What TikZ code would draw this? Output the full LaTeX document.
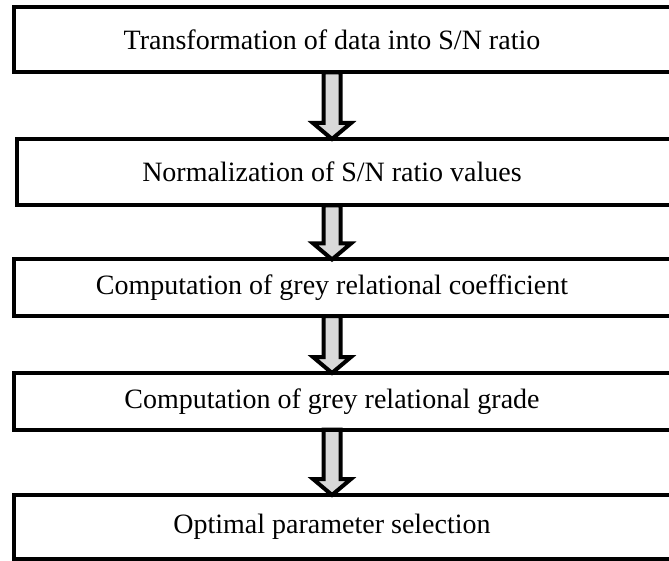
\documentclass[tikz,border=0pt]{standalone}
\usepackage{fontspec}
\setmainfont{Liberation Serif}
\usetikzlibrary{calc}
\pgfdeclarelayer{under}
\pgfsetlayers{under,main}

% Hollow block arrow from the bottom of one stage to the top of the next
\newcommand{\stagearrow}[2]{%
  \coordinate (#1tail) at (#1.south -| axis);
  \coordinate (#2tip) at (#2.north -| axis);
  \begin{pgfonlayer}{under}
    \draw[flowarrow]
      ($(#1tail)+(-8.5,0)$) -- ($(#2tip)+(-8.5,-16)$) -- ($(#2tip)+(-19,-16)$)
      -- (#2tip) -- ($(#2tip)+(19,-16)$) -- ($(#2tip)+(8.5,-16)$)
      -- ($(#1tail)+(8.5,0)$) -- cycle;
  \end{pgfonlayer}}

\begin{document}
\begin{tikzpicture}[x=1pt,y=-1pt,
  stage/.style={draw=black, line width=4pt, fill=none, outer sep=0pt, inner sep=0pt},
  caption/.style={font=\fontsize{28}{32}\selectfont, inner sep=0pt},
  flowarrow/.style={draw=black, line width=4pt, fill=arrowgrey, line join=miter}]
\definecolor{arrowgrey}{HTML}{D9D9D9}
\useasboundingbox (0,0) rectangle (669,561);

\coordinate (axis) at (332,0);

% stage frames (they run past the right edge)
\node[stage, minimum width=666pt, minimum height=65.5pt] (s1) at (347,39.75) {};
\node[stage, minimum width=663pt, minimum height=66.5pt] (s2) at (348.5,172.25) {};
\node[stage, minimum width=666pt, minimum height=56.5pt] (s3) at (347,287.75) {};
\node[stage, minimum width=666pt, minimum height=56.5pt] (s4) at (347,401.25) {};
\node[stage, minimum width=666pt, minimum height=64pt] (s5) at (347,527) {};

% stage captions
\node[caption] (t1) at (s1 -| axis) {Transformation of data into S/N ratio};
\node[caption] (t2) at (s2 -| axis) {Normalization of S/N ratio values};
\node[caption] (t3) at (s3 -| axis) {Computation of grey relational coefficient};
\node[caption] (t4) at (s4 -| axis) {Computation of grey relational grade};
\node[caption] (t5) at (s5 -| axis) {Optimal parameter selection};

% arrows between stages
\stagearrow{s1}{s2}
\stagearrow{s2}{s3}
\stagearrow{s3}{s4}
\stagearrow{s4}{s5}
\end{tikzpicture}
\end{document}
